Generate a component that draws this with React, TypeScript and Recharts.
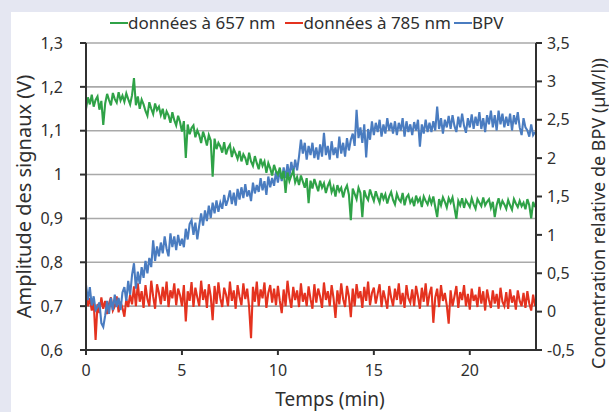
import React from "react";
import { LineChart, Line, XAxis, YAxis, CartesianGrid, Label } from "recharts";

// Sampling step of the recording (min)
const STEP = 0.1;

// Signal at 657 nm (V), left axis
const GREEN_657 = [
  1.150, 1.176, 1.160, 1.182, 1.155, 1.170, 1.178, 1.148, 1.168, 1.113,
  1.162, 1.184, 1.170, 1.158, 1.186, 1.172, 1.164, 1.188, 1.169, 1.180,
  1.166, 1.185, 1.172, 1.160, 1.181, 1.220, 1.158, 1.178, 1.150, 1.171,
  1.160, 1.145, 1.134, 1.165, 1.150, 1.138, 1.162, 1.147, 1.155, 1.136,
  1.150, 1.126, 1.144, 1.135, 1.118, 1.142, 1.124, 1.112, 1.134, 1.120,
  1.098, 1.122, 1.038, 1.114, 1.092, 1.106, 1.112, 1.085, 1.101, 1.090,
  1.072, 1.098, 1.084, 1.066, 1.090, 1.078, 0.995, 1.082, 1.058, 1.072,
  1.064, 1.050, 1.074, 1.046, 1.060, 1.068, 1.040, 1.058, 1.048, 1.036,
  1.054, 1.030, 1.046, 1.038, 1.022, 1.050, 1.030, 1.020, 1.042, 1.026,
  1.012, 1.036, 1.020, 1.030, 1.004, 1.026, 1.014, 0.998, 1.022, 1.008,
  1.000, 1.016, 0.990, 1.008, 0.958, 1.005, 0.985, 0.998, 1.008, 0.982,
  0.994, 0.976, 0.998, 0.984, 0.970, 0.992, 0.935, 0.986, 0.968, 0.990,
  0.976, 0.962, 0.986, 0.970, 0.980, 0.958, 0.974, 0.984, 0.960, 0.972,
  0.950, 0.976, 0.962, 0.970, 0.948, 0.966, 0.975, 0.954, 0.896, 0.968,
  0.956, 0.944, 0.970, 0.958, 0.903, 0.964, 0.950, 0.942, 0.966, 0.952,
  0.940, 0.962, 0.948, 0.936, 0.958, 0.944, 0.955, 0.934, 0.950, 0.960,
  0.942, 0.932, 0.956, 0.944, 0.938, 0.958, 0.930, 0.948, 0.954, 0.936,
  0.944, 0.928, 0.952, 0.938, 0.946, 0.926, 0.950, 0.940, 0.932, 0.948,
  0.934, 0.950, 0.926, 0.903, 0.944, 0.930, 0.948, 0.938, 0.925, 0.946,
  0.936, 0.948, 0.924, 0.899, 0.940, 0.930, 0.946, 0.924, 0.942, 0.934,
  0.926, 0.946, 0.932, 0.922, 0.944, 0.936, 0.928, 0.948, 0.930, 0.938,
  0.944, 0.924, 0.938, 0.903, 0.930, 0.946, 0.926, 0.940, 0.932, 0.922,
  0.942, 0.930, 0.920, 0.944, 0.934, 0.926, 0.940, 0.928, 0.936, 0.921,
  0.944, 0.930, 0.900, 0.938, 0.926,
];

// Signal at 785 nm (V), left axis
const RED_785 = [
  0.728, 0.700, 0.718, 0.690, 0.712, 0.623, 0.705, 0.684, 0.720, 0.694,
  0.712, 0.682, 0.706, 0.720, 0.690, 0.700, 0.722, 0.686, 0.710, 0.696,
  0.676, 0.716, 0.698, 0.726, 0.704, 0.745, 0.700, 0.752, 0.710, 0.734,
  0.696, 0.748, 0.716, 0.700, 0.758, 0.722, 0.694, 0.750, 0.730, 0.704,
  0.744, 0.712, 0.756, 0.698, 0.736, 0.718, 0.752, 0.702, 0.740, 0.725,
  0.700, 0.748, 0.665, 0.734, 0.712, 0.755, 0.698, 0.742, 0.720, 0.700,
  0.758, 0.714, 0.738, 0.696, 0.750, 0.722, 0.668, 0.746, 0.705, 0.754,
  0.718, 0.698, 0.742, 0.726, 0.700, 0.756, 0.712, 0.736, 0.694, 0.748,
  0.722, 0.702, 0.752, 0.716, 0.740, 0.698, 0.627, 0.744, 0.710, 0.756,
  0.700, 0.738, 0.718, 0.754, 0.696, 0.730, 0.748, 0.708, 0.740, 0.702,
  0.746, 0.712, 0.684, 0.738, 0.700, 0.758, 0.720, 0.696, 0.744, 0.714,
  0.736, 0.698, 0.752, 0.710, 0.730, 0.700, 0.745, 0.716, 0.694, 0.750,
  0.708, 0.740, 0.722, 0.696, 0.754, 0.714, 0.734, 0.700, 0.748, 0.718,
  0.673, 0.736, 0.704, 0.752, 0.716, 0.698, 0.746, 0.722, 0.675, 0.740,
  0.700, 0.750, 0.718, 0.734, 0.696, 0.744, 0.712, 0.756, 0.702, 0.730,
  0.742, 0.706, 0.728, 0.750, 0.698, 0.736, 0.716, 0.694, 0.746, 0.720,
  0.700, 0.740, 0.714, 0.752, 0.704, 0.730, 0.696, 0.748, 0.718, 0.708,
  0.738, 0.700, 0.746, 0.722, 0.694, 0.742, 0.710, 0.752, 0.700, 0.728,
  0.744, 0.662, 0.720, 0.740, 0.698, 0.748, 0.712, 0.730, 0.702, 0.660,
  0.736, 0.700, 0.722, 0.746, 0.696, 0.732, 0.714, 0.748, 0.700, 0.728,
  0.692, 0.740, 0.712, 0.726, 0.698, 0.744, 0.706, 0.734, 0.690, 0.738,
  0.714, 0.696, 0.736, 0.706, 0.728, 0.694, 0.742, 0.710, 0.700, 0.732,
  0.694, 0.738, 0.708, 0.724, 0.692, 0.736, 0.712, 0.700, 0.730, 0.696,
  0.734, 0.706, 0.690, 0.726, 0.700,
];

// Relative BPV concentration (µM/l), right axis
const BPV = [
  0.35, 0.15, 0.32, 0.08, 0.20, 0.02, 0.06, 0.12, -0.15, -0.20,
  -0.05, 0.14, -0.03, 0.18, 0.02, 0.22, 0.06, 0.18, 0.02, 0.25,
  0.32, 0.14, 0.40, 0.22, 0.48, 0.63, 0.30, 0.52, 0.36, 0.58,
  0.44, 0.66, 0.50, 0.70, 0.58, 0.93, 0.66, 0.85, 0.72, 0.90,
  0.76, 0.98, 0.82, 0.72, 1.02, 0.84, 0.98, 0.80, 1.00, 0.86,
  0.95, 0.84, 1.08, 0.94, 1.14, 1.19, 1.00, 1.16, 0.94, 1.12,
  1.28, 1.12, 1.32, 1.18, 1.38, 1.22, 1.42, 1.28, 1.45, 1.30,
  1.42, 1.34, 1.52, 1.38, 1.46, 1.58, 1.40, 1.55, 1.38, 1.60,
  1.46, 1.62, 1.48, 1.66, 1.50, 1.58, 1.44, 1.68, 1.54, 1.65,
  1.56, 1.74, 1.58, 1.70, 1.52, 1.76, 1.62, 1.74, 1.64, 1.82,
  1.68, 1.84, 1.70, 1.88, 1.74, 1.92, 1.76, 1.95, 1.80, 1.98,
  1.84, 2.02, 2.24, 2.06, 2.20, 1.98, 2.16, 2.04, 2.20, 2.00,
  2.14, 1.98, 2.18, 2.02, 2.33, 2.04, 2.16, 1.98, 2.22, 2.04,
  2.14, 2.00, 2.28, 2.06, 2.20, 2.02, 2.26, 2.10, 2.24, 2.32,
  2.16, 2.63, 2.26, 2.40, 2.20, 2.44, 2.01, 2.38, 2.24, 2.48,
  2.30, 2.46, 2.34, 2.50, 2.28, 2.44, 2.32, 2.52, 2.36, 2.46,
  2.32, 2.48, 2.30, 2.46, 2.36, 2.52, 2.28, 2.48, 2.34, 2.44,
  2.30, 2.47, 2.36, 2.50, 2.15, 2.44, 2.32, 2.50, 2.34, 2.46,
  2.34, 2.48, 2.36, 2.67, 2.38, 2.52, 2.32, 2.50, 2.40, 2.55,
  2.38, 2.56, 2.42, 2.34, 2.54, 2.40, 2.58, 2.42, 2.33, 2.52,
  2.40, 2.57, 2.38, 2.54, 2.42, 2.60, 2.38, 2.52, 2.34, 2.56,
  2.44, 2.62, 2.40, 2.56, 2.36, 2.62, 2.44, 2.58, 2.40, 2.54,
  2.42, 2.58, 2.36, 2.56, 2.44, 2.60, 2.40, 2.30, 2.52, 2.40,
  2.36, 2.28, 2.44, 2.30, 2.34,
];

const X_TICKS = [0, 5, 10, 15, 20];
const LEFT_TICKS = [0.6, 0.7, 0.8, 0.9, 1, 1.1, 1.2, 1.3];
const RIGHT_TICKS = [-0.5, 0, 0.5, 1, 1.5, 2, 2.5, 3, 3.5];

const SERIES = [
  { key: "green", name: "données à 657 nm", color: "#2fa247" },
  { key: "red", name: "données à 785 nm", color: "#e4321f" },
  { key: "bpv", name: "BPV", color: "#4a7cc0" },
];

const data = GREEN_657.map((g, i) => ({
  t: Math.round(i * STEP * 10) / 10,
  green: g,
  red: RED_785[i],
  bpv: BPV[i],
}));

const FONT = "'Noto Sans', 'DejaVu Sans', sans-serif";
const TXT = "#2f2f2f";
const AXIS = "#303030";
const LW = 2.1;

const fmt = (v: number) => String(v).replace(".", ",");

export default function App() {
  return (
    <div
      style={{
        position: "absolute",
        left: 0,
        top: 0,
        width: 609,
        height: 412,
        background: "#e5e7f2",
        overflow: "hidden",
        fontFamily: FONT,
      }}
    >
      <div
        style={{
          position: "absolute",
          left: 11,
          top: 12,
          right: 0,
          bottom: 0,
          background: "#ffffff",
        }}
      />
      {/* legend */}
      <div
        style={{
          position: "absolute",
          left: 110,
          top: 10,
          display: "flex",
          alignItems: "center",
          fontSize: 17,
          color: TXT,
          whiteSpace: "nowrap",
          height: 24,
        }}
      >
        {SERIES.map((s, i) => (
          <div
            key={s.key}
            style={{
              display: "flex",
              alignItems: "center",
              marginLeft: i === 0 ? 0 : i === 1 ? 10 : 3,
            }}
          >
            <span
              style={{
                display: "inline-block",
                width: 18,
                height: 2.5,
                background: s.color,
                marginTop: 2,
              }}
            />
            <span>{s.name}</span>
          </div>
        ))}
      </div>
      <div style={{ position: "absolute", left: 0, top: 0 }}>
        <LineChart
          width={609}
          height={412}
          data={data}
          margin={{ top: 43, right: 0, bottom: 0, left: 0 }}
        >
          <CartesianGrid vertical={false} stroke="#a9a9a9" strokeWidth={1.6} />
          <XAxis
            dataKey="t"
            type="number"
            domain={[0, 23.45]}
            ticks={X_TICKS}
            height={62}
            stroke={AXIS}
            strokeWidth={2}
            tickSize={5}
            tickMargin={10}
            tick={{ fill: TXT, fontSize: 16, fontFamily: FONT }}
            tickLine={{ stroke: AXIS, strokeWidth: 2 }}
          >
            <Label
              content={({ viewBox }: any) => (
                <text
                  x={viewBox.x + 244}
                  y={406}
                  textAnchor="middle"
                  fill={TXT}
                  fontSize={19}
                  fontFamily={FONT}
                >
                  Temps (min)
                </text>
              )}
            />
          </XAxis>
          <YAxis
            type="number"
            domain={[0.6, 1.3]}
            ticks={LEFT_TICKS}
            width={86}
            stroke={AXIS}
            strokeWidth={2}
            tickSize={6}
            tickMargin={17}
            tickFormatter={fmt}
            tick={{ fill: TXT, fontSize: 16, fontFamily: FONT }}
            tickLine={{ stroke: AXIS, strokeWidth: 2 }}
            allowDataOverflow
          >
            <Label
              content={({ viewBox }: any) => {
                const cx = viewBox.x + 23;
                const cy = viewBox.y + viewBox.height / 2;
                return (
                  <text
                    x={cx}
                    y={cy}
                    transform={`rotate(-90, ${cx}, ${cy})`}
                    textAnchor="middle"
                    dominantBaseline="central"
                    fill={TXT}
                    fontSize={20}
                    fontFamily={FONT}
                  >
                    Amplitude des signaux (V)
                  </text>
                );
              }}
            />
          </YAxis>
          <YAxis
            yAxisId="right"
            orientation="right"
            type="number"
            domain={[-0.5, 3.5]}
            ticks={RIGHT_TICKS}
            width={73}
            stroke={AXIS}
            strokeWidth={2}
            tickSize={6}
            tickMargin={5}
            tickFormatter={fmt}
            tick={{ fill: TXT, fontSize: 16, fontFamily: FONT }}
            tickLine={{ stroke: AXIS, strokeWidth: 2 }}
            allowDataOverflow
          >
            <Label
              content={({ viewBox }: any) => {
                const cx = viewBox.x + 62;
                const cy = viewBox.y + viewBox.height / 2 + 17;
                return (
                  <text
                    x={cx}
                    y={cy}
                    transform={`rotate(-90, ${cx}, ${cy})`}
                    textAnchor="middle"
                    dominantBaseline="central"
                    fill={TXT}
                    fontSize={18}
                    fontFamily={FONT}
                  >
                    Concentration relative de BPV (µM/l))
                  </text>
                );
              }}
            />
          </YAxis>
          <Line
            dataKey="red"
            name={SERIES[1].name}
            stroke={SERIES[1].color}
            strokeWidth={LW}
            dot={false}
            isAnimationActive={false}
          />
          <Line
            dataKey="bpv"
            yAxisId="right"
            name={SERIES[2].name}
            stroke={SERIES[2].color}
            strokeWidth={LW}
            dot={false}
            isAnimationActive={false}
          />
          <Line
            dataKey="green"
            name={SERIES[0].name}
            stroke={SERIES[0].color}
            strokeWidth={LW}
            dot={false}
            isAnimationActive={false}
          />
        </LineChart>
      </div>
    </div>
  );
}
